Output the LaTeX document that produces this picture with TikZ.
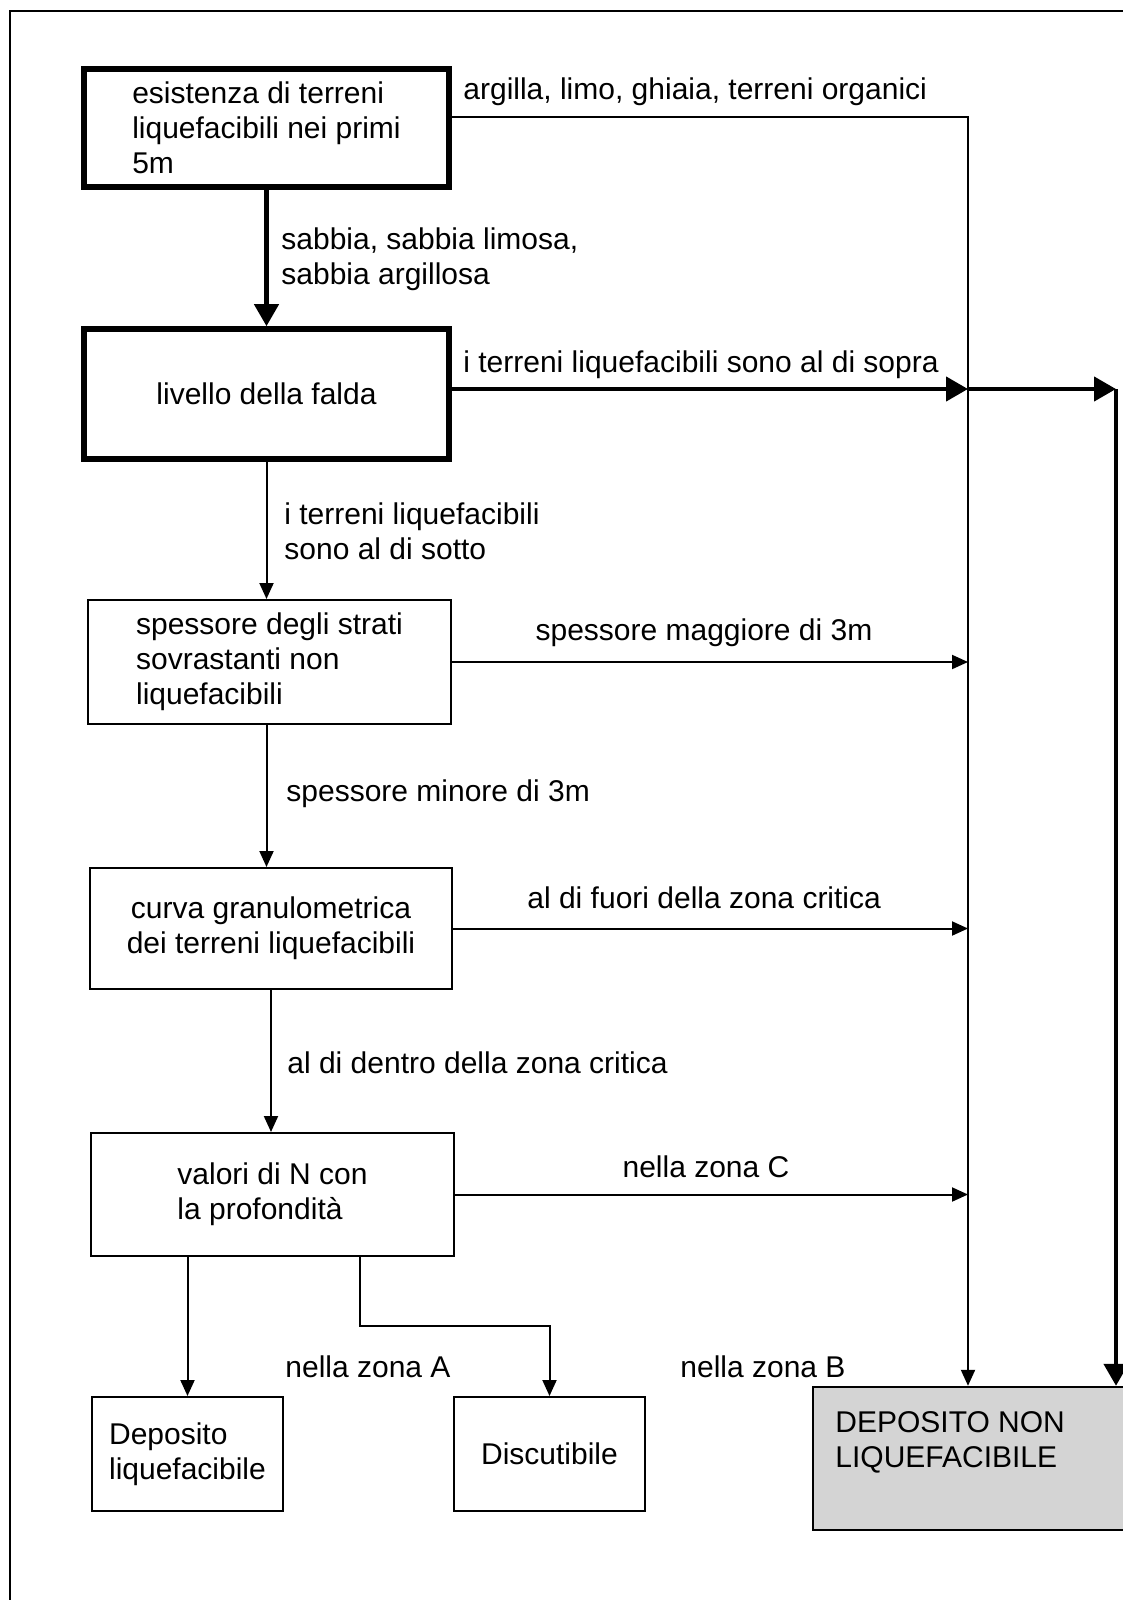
\documentclass[tikz,border=0pt]{standalone}
\usepackage{fontspec}
\setmainfont{Liberation Sans}
\usetikzlibrary{arrows.meta, positioning}

\begin{document}
\begin{tikzpicture}[x=0.5pt, y=-0.5pt,
  every node/.style={font=\fontsize{15}{17.5}\selectfont},
  box/.style={draw, line width=1pt, align=left, inner sep=0pt,
              minimum width=181.5pt, minimum height=61.5pt},
  thickbox/.style={box, line width=2.8pt},
  endbox/.style={draw, line width=1.2pt, fill=black!17, inner sep=0pt,
                 minimum width=161pt, minimum height=71.5pt},
  lbl/.style={anchor=west, align=left, inner sep=0pt},
  arr/.style={line width=1pt, -{Triangle[length=8pt, width=7pt]}},
  thickarr/.style={line width=2.2pt, -{Triangle[length=11pt, width=12pt]}}
]
  \useasboundingbox (0,0) rectangle (1123,1600);
  \draw[line width=1pt] (10,11) rectangle (1160,1660);

  \node[thickbox, minimum width=182.5pt, minimum height=59pt] (esist) at (266.5,128)
    {esistenza di terreni\\liquefacibili nei primi\\5m};
  \node[thickbox, minimum width=182.5pt, minimum height=65pt, align=center] (falda) at (266.5,394)
    {livello della falda};
  \node[box, minimum height=62pt] (spess) at (269.5,662)
    {spessore degli strati\\sovrastanti non\\liquefacibili};
  \node[box, minimum width=181pt, minimum height=60.5pt, align=center] (curva) at (271,928.5)
    {curva granulometrica\\dei terreni liquefacibili};
  \node[box] (valori) at (272.5,1194.5)
    {valori di N con\\la profondità};
  \node[box, minimum width=95.5pt, minimum height=57pt] (depliq) at (187.5,1454)
    {Deposito\\liquefacibile};
  \node[box, minimum width=95.5pt, minimum height=57pt, align=center] (discut) at (549.5,1454)
    {Discutibile};
  \node[endbox] (dnl) at (974,1458.5) {};
  \node[lbl, anchor=north west] (dnltxt) at (835,1411) {DEPOSITO NON\\LIQUEFACIBILE};

  \coordinate (vone) at (968,117);
  \coordinate (vtwo) at (1116,389);
  \coordinate (vbr) at (360,1326);

  \draw[arr] (esist.east |- vone) -- (vone) -- (vone |- dnl.north);
  \draw[thickarr] (esist) -- (falda);
  \draw[thickarr] (falda.east |- vtwo) -- (vone |- vtwo);
  \draw[thickarr] (vone |- vtwo) -- (vtwo);
  \draw[thickarr] (vtwo) -- (vtwo |- dnl.north);
  \draw[arr] (falda.south) -- (falda.south |- spess.north);
  \draw[arr] (spess.east) -- (spess.east -| vone);
  \draw[arr] (spess.south -| falda.south) -- (falda.south |- curva.north);
  \draw[arr] (curva.east) -- (curva.east -| vone);
  \draw[arr] (curva.south) -- (curva.south |- valori.north);
  \draw[arr] (valori.east) -- (valori.east -| vone);
  \draw[arr] (valori.south -| depliq.north) -- (depliq.north);
  \draw[arr] (valori.south -| vbr) -- (vbr) -| (discut.north);

  \node[lbl] (lblorg) at (463,92) {argilla, limo, ghiaia, terreni organici};
  \node[lbl] (lblsab) at (281,259) {sabbia, sabbia limosa,\\sabbia argillosa};
  \node[lbl] (lblsopra) at (463,365) {i terreni liquefacibili sono al di sopra};
  \node[lbl] (lblsotto) at (284,531) {i terreni liquefacibili\\sono al di sotto};
  \node[lbl, anchor=center] (lblmagg) at (704,633) {spessore maggiore di 3m};
  \node[lbl] (lblmin) at (286,794) {spessore minore di 3m};
  \node[lbl] (lblfuori) at (527,898) {al di fuori della zona critica};
  \node[lbl] (lbldentro) at (287,1063) {al di dentro della zona critica};
  \node[lbl, anchor=center] (lblC) at (706,1167) {nella zona C};
  \node[lbl] (lblA) at (285,1367) {nella zona A};
  \node[lbl] (lblB) at (680,1367) {nella zona B};
\end{tikzpicture}
\end{document}
